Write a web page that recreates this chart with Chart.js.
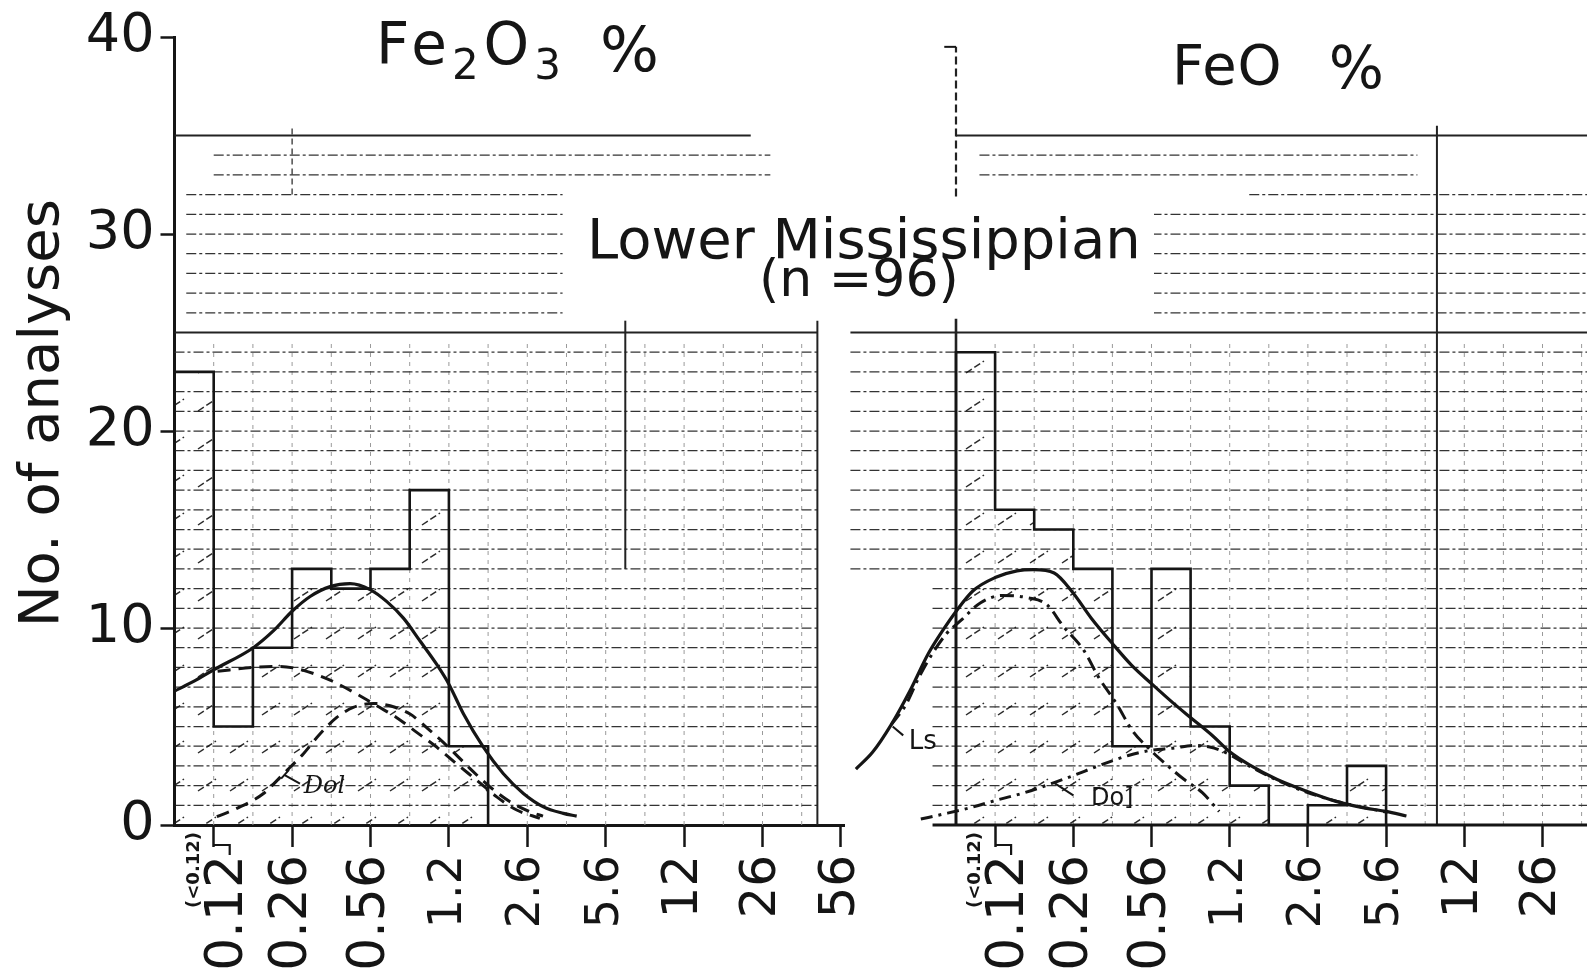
<!DOCTYPE html>
<html>
<head>
<meta charset="utf-8">
<script src="https://cdn.jsdelivr.net/npm/chart.js@4.4.1/dist/chart.umd.min.js"></script>
<style>
html,body{margin:0;padding:0;background:#fff;}
#wrap{position:relative;width:1587px;height:973px;overflow:hidden;background:#fff;}
#wrap canvas{position:absolute;left:0;top:0;}
.t{position:absolute;font-family:"DejaVu Sans",sans-serif;color:#151515;line-height:1;white-space:nowrap;}
.sub{font-size:42px;position:relative;top:15px;}
#box{position:absolute;left:567px;top:197px;width:587px;height:117px;background:#fff;}
</style>
</head>
<body>
<div id="wrap">
  <canvas id="cL" width="1587" height="973"></canvas>
  <canvas id="cR" width="1587" height="973"></canvas>
  <div id="box"></div>
  <div class="t" style="left:376px;top:12px;font-size:58px;letter-spacing:5px;">Fe<span class="sub">2</span>O<span class="sub">3</span><span style="margin-left:34px;font-size:62px;position:relative;top:7px;">%</span></div>
  <div class="t" style="left:1172px;top:35px;font-size:56px;letter-spacing:1px;">FeO<span style="margin-left:46px;font-size:58px;position:relative;top:4px;">%</span></div>
  <div class="t" style="left:587px;top:211px;font-size:56px;">Lower Mississippian</div>
  <div class="t" style="left:759px;top:252px;font-size:52px;">(n =96)</div>
</div>
<script>
// ---------------- data ----------------
const tickLabels = ['0.12', '0.26', '0.56', '1.2', '2.6', '5.6', '12', '26', '56'];
const firstBinLabel = '(<0.12)';
const yTickValues = [0, 10, 20, 30, 40];

// counts per half-decade bin, starting with the (<0.12) bin
const fe2o3Counts = [23, 5, 9, 13, 12, 13, 17, 4];
const feoCounts = [24, 16, 15, 13, 4, 13, 5, 2, 0, 1, 3];

// fitted curves: [bin position, number of analyses]
const fe2o3Total = [[0, 6.8], [0.5, 7.3], [1.02, 7.9], [2.01, 9.0], [2.52, 9.85], [3.0, 10.85], [3.46, 11.6], [3.97, 12.1], [4.48, 12.25], [4.99, 11.95], [5.41, 11.35], [5.84, 10.5], [6.26, 9.35], [6.69, 8.15], [7.0, 7.15], [7.37, 5.65], [7.88, 3.95], [8.39, 2.6], [8.9, 1.6], [9.41, 0.92], [9.92, 0.59], [10.26, 0.45]];
const fe2o3Ls = [[1.1, 7.8], [2.01, 8.0], [2.69, 8.05], [3.29, 7.85], [3.97, 7.35], [4.65, 6.65], [5.16, 6.05], [5.67, 5.45], [6.18, 4.7], [6.69, 3.95], [7.2, 3.1], [7.71, 2.27], [8.22, 1.43], [8.73, 0.76], [9.32, 0.34]];
const fe2o3Dol = [[1.08, 0.42], [1.59, 0.84], [2.27, 1.6], [2.78, 2.6], [3.29, 3.62], [3.71, 4.62], [4.14, 5.46], [4.56, 5.97], [5.07, 6.17], [5.5, 6.05], [6.01, 5.63], [6.52, 4.79], [7.03, 3.87], [7.54, 2.86], [8.05, 1.93], [8.56, 1.18], [9.07, 0.67], [9.4, 0.45]];

const feoTotal = [[-2.56, 2.84], [-2.13, 3.7], [-1.66, 5.08], [-1.18, 6.8], [-0.71, 8.69], [-0.33, 9.9], [0, 10.84], [0.43, 11.88], [1.0, 12.56], [1.56, 12.9], [1.99, 12.96], [2.51, 12.79], [2.99, 11.79], [3.46, 10.5], [4.0, 9.21], [4.5, 8.09], [5.02, 7.14], [5.55, 6.2], [6.02, 5.42], [6.59, 4.48], [7.01, 3.7], [7.54, 3.01], [8.2, 2.32], [8.96, 1.72], [9.72, 1.2], [10.47, 0.86], [11.0, 0.69], [11.52, 0.46]];
const feoLs = [[-1.66, 5.08], [-1.28, 6.11], [-0.95, 7.49], [-0.66, 8.52], [-0.24, 9.72], [0.14, 10.41], [0.62, 11.27], [1.18, 11.65], [1.85, 11.53], [2.32, 11.19], [2.75, 10.07], [3.27, 8.86], [3.65, 7.49], [4.12, 6.11], [4.5, 4.82], [4.98, 3.79], [5.36, 3.1], [5.83, 2.32], [6.3, 1.64], [6.73, 0.69]];
const feoDol = [[-0.9, 0.3], [-0.33, 0.55], [0.33, 0.86], [1.09, 1.29], [1.75, 1.64], [2.51, 2.15], [2.99, 2.5], [3.65, 3.01], [4.41, 3.53], [4.98, 3.79], [5.55, 3.9], [6.11, 4.04], [6.49, 3.96], [6.87, 3.7], [7.54, 2.95], [8.2, 2.29], [8.96, 1.67], [9.9, 1.12], [11.04, 0.64]];

// ---------------- layout / style ----------------
const W = 1587, H = 973;
const PLOT_TOP = 37, PLOT_BOTTOM = 825;
const LEFT_AXIS_PX = 174.5, LEFT_BIN = 39.2;
const RIGHT_AXIS_PX = 956, RIGHT_BIN = 39.1;
const INK = '#151515';
const FONT = '"DejaVu Sans", sans-serif';
Chart.defaults.font.family = FONT;
Chart.defaults.color = INK;

function xLabelFont(index, lab) {
  let size = 50;
  if (lab && lab.startsWith('0.')) size = 52;
  else if (lab && lab.indexOf('.') >= 0) size = 46;
  // the first label is written one small step to the right of its tick
  return {family: FONT, size: size, lineHeight: index === 0 ? 0.28 : 1.1};
}

function makeHatchTile() {
  const c = document.createElement('canvas');
  c.width = 32; c.height = 38;
  const g = c.getContext('2d');
  g.strokeStyle = 'rgba(20,20,20,0.9)';
  g.lineWidth = 1.5;
  g.setLineDash([7, 3]);
  g.beginPath(); g.moveTo(6, 31); g.lineTo(24, 19); g.stroke();
  return c;
}
const hatchTile = makeHatchTile();

const toXY = arr => arr.map(p => ({x: p[0], y: p[1]}));
function steppedOutline(counts) {
  const pts = [{x: 0, y: 0}];
  counts.forEach((c, i) => pts.push({x: i, y: c}));
  pts.push({x: counts.length, y: 0});
  return pts;
}

function seg(ctx, x0, y0, x1, y1) { ctx.beginPath(); ctx.moveTo(x0, y0); ctx.lineTo(x1, y1); ctx.stroke(); }

function makePaperPlugin(paper) {
  return {
    id: 'paper',
    beforeDatasetsDraw(chart) {
      const ctx = chart.ctx, X = chart.scales.x, Y = chart.scales.y;
      const px = v => X.getPixelForValue(v), py = v => Y.getPixelForValue(v);
      ctx.save();
      ctx.strokeStyle = '#9a9a9a'; ctx.lineWidth = 1; ctx.setLineDash([4, 5]);
      paper.cols.forEach(c => {
        for (let x = c.x0; x <= c.x1 + 1e-6; x += c.step) seg(ctx, px(x), py(c.v0), px(x), py(c.v1));
      });
      ctx.strokeStyle = '#333'; ctx.lineWidth = 1.25; ctx.setLineDash([10, 3, 3, 3]);
      paper.rows.forEach(r => {
        for (let v = r.from; v <= r.to; v++) seg(ctx, px(r.x0), py(v), px(r.x1), py(v));
      });
      ctx.strokeStyle = '#222'; ctx.lineWidth = 2; ctx.setLineDash([]);
      paper.majors.forEach(m => seg(ctx, px(m.x0), py(m.v), px(m.x1), py(m.v)));
      paper.vmajors.forEach(m => {
        ctx.setLineDash(m.dash || []);
        ctx.lineWidth = m.w || 2;
        seg(ctx, px(m.x), py(m.v0), px(m.x), py(m.v1));
      });
      ctx.restore();
    }
  };
}

function makeNotesPlugin(notes) {
  return {
    id: 'notes',
    afterDatasetsDraw(chart) {
      const ctx = chart.ctx, X = chart.scales.x, Y = chart.scales.y;
      const px = v => X.getPixelForValue(v), py = v => Y.getPixelForValue(v);
      ctx.save();
      ctx.fillStyle = INK; ctx.strokeStyle = INK; ctx.setLineDash([]);
      if (notes.baseline) {
        ctx.lineWidth = 3;
        seg(ctx, px(notes.baseline[0]), py(0), px(notes.baseline[1]), py(0));
      }
      ctx.lineWidth = 2;
      notes.leaders.forEach(l => seg(ctx, px(l[0][0]), py(l[0][1]), px(l[1][0]), py(l[1][1])));
      notes.texts.forEach(t => {
        ctx.font = t.font; ctx.textAlign = t.align || 'left'; ctx.textBaseline = 'middle';
        ctx.fillText(t.text, px(t.x), py(t.y));
      });
      ctx.save();
      ctx.translate(px(0.5), PLOT_BOTTOM + 7);
      ctx.rotate(-Math.PI / 2);
      ctx.font = 'bold 18px ' + FONT; ctx.textAlign = 'right'; ctx.textBaseline = 'middle';
      ctx.fillText(firstBinLabel, 0, 0);
      ctx.restore();
      const x1 = px(1);
      ctx.lineWidth = 2.2;
      ctx.beginPath(); ctx.moveTo(x1, PLOT_BOTTOM + 20); ctx.lineTo(x1 + 16, PLOT_BOTTOM + 20); ctx.lineTo(x1 + 16, PLOT_BOTTOM + 30); ctx.stroke();
      ctx.restore();
    }
  };
}

function buildChart(canvasId, cfg) {
  const canvas = document.getElementById(canvasId);
  const ctx = canvas.getContext('2d');
  const pattern = ctx.createPattern(hatchTile, 'repeat');
  const curve = (data, width, dash) => ({
    type: 'line', data: toXY(data), borderColor: INK, borderWidth: width, borderDash: dash,
    pointRadius: 0, fill: false, cubicInterpolationMode: 'monotone', clip: false, order: 0
  });
  return new Chart(ctx, {
    type: 'line',
    data: {
      datasets: [
        {type: 'bar', data: cfg.counts.map((c, i) => ({x: i + 0.5, y: c})), backgroundColor: pattern,
         borderWidth: 0, barPercentage: 1, categoryPercentage: 1, order: 5},
        {type: 'line', data: steppedOutline(cfg.counts), stepped: true, borderColor: INK, borderWidth: 2.6,
         pointRadius: 0, fill: false, order: 1, clip: false},
        curve(cfg.total, 3.2, []),
        curve(cfg.ls, 3, cfg.lsDash),
        curve(cfg.dol, 3, cfg.dolDash)
      ]
    },
    plugins: [makePaperPlugin(cfg.paper), makeNotesPlugin(cfg.notes)],
    options: {
      responsive: false, animation: false, events: [],
      layout: {padding: {left: cfg.padLeft, right: cfg.padRight, top: PLOT_TOP, bottom: 0}},
      plugins: {legend: {display: false}, tooltip: {enabled: false}},
      scales: {
        x: {
          type: 'linear', min: cfg.xMin, max: cfg.xMax, offset: false,
          afterBuildTicks: s => { s.ticks = cfg.ticks.map((lab, i) => ({value: 1 + 2 * i})); },
          afterFit: s => { s.height = H - PLOT_BOTTOM; s.paddingLeft = 0; s.paddingRight = 0; },
          ticks: {
            autoSkip: false, minRotation: 90, maxRotation: 90, padding: 8, color: INK,
            callback: (v, i) => (i === 0 ? ['', cfg.ticks[i]] : cfg.ticks[i]),
            font: c => xLabelFont(c.index, cfg.ticks[c.index])
          },
          grid: {drawOnChartArea: false, drawTicks: true, tickLength: 22, tickWidth: 2.5, tickColor: INK, offset: false},
          border: {display: cfg.showBorderX, width: 3, color: INK}
        },
        y: cfg.showY ? {
          type: 'linear', min: 0, max: 40,
          afterBuildTicks: s => { s.ticks = yTickValues.map(v => ({value: v})); },
          afterFit: s => { s.width = LEFT_AXIS_PX; },
          ticks: {padding: 6, color: INK, font: {family: FONT, size: 54, lineHeight: 1}},
          grid: {drawOnChartArea: false, tickLength: 14, tickWidth: 2.5, tickColor: INK},
          border: {display: true, width: 3, color: INK},
          title: {display: true, text: '  No. of analyses', color: INK,
                  font: {family: FONT, size: 56, lineHeight: 1}, padding: {top: 15, bottom: 0}}
        } : {type: 'linear', min: 0, max: 40, display: false}
      }
    }
  });
}

// left panel: Fe2O3
buildChart('cL', {
  counts: fe2o3Counts, total: fe2o3Total, ls: fe2o3Ls, dol: fe2o3Dol,
  lsDash: [13, 8], dolDash: [13, 8],
  ticks: tickLabels, xMin: 0, xMax: 17.1, showY: true, showBorderX: true,
  padLeft: 0, padRight: W - (LEFT_AXIS_PX + 17.1 * LEFT_BIN),
  paper: {
    cols: [{x0: 1, x1: 16, step: 1, v0: 0, v1: 24.6}],
    rows: [{from: 1, to: 24, x0: 0, x1: 16.4}, {from: 26, to: 32, x0: 0.3, x1: 9.9}, {from: 33, to: 34, x0: 1, x1: 15.2}],
    majors: [{v: 25, x0: 0, x1: 16.4}, {v: 35, x0: 0, x1: 14.7}],
    vmajors: [{x: 16.4, v0: 0, v1: 25.6}, {x: 11.5, v0: 13, v1: 25.6}, {x: 3.0, v0: 32, v1: 35.5, dash: [6, 4], w: 1.2}]
  },
  notes: {
    texts: [{text: 'Dol', x: 3.3, y: 1.95, font: 'italic 24px "DejaVu Serif", serif', align: 'left'}],
    leaders: [[[2.8, 2.55], [3.2, 2.1]], [[2.72, 2.35], [2.92, 2.8]]]
  }
});

// right panel: FeO
const R_MIN = -2.7, R_MAX = (W - RIGHT_AXIS_PX) / RIGHT_BIN;
buildChart('cR', {
  counts: feoCounts, total: feoTotal, ls: feoLs, dol: feoDol,
  lsDash: [14, 6, 3, 6], dolDash: [12, 6, 3, 6],
  ticks: tickLabels.slice(0, 8), xMin: R_MIN, xMax: R_MAX, showY: false, showBorderX: false,
  padLeft: RIGHT_AXIS_PX + R_MIN * RIGHT_BIN, padRight: 0,
  paper: {
    cols: [{x0: 1, x1: 16, step: 1, v0: 0, v1: 24.6}],
    rows: [{from: 1, to: 12, x0: -0.6, x1: 16.2}, {from: 13, to: 24, x0: -2.7, x1: 16.2},
           {from: 26, to: 31, x0: 5.0, x1: 16.2}, {from: 32, to: 32, x0: 7.5, x1: 16.2}, {from: 33, to: 34, x0: 0.6, x1: 11.8}],
    majors: [{v: 25, x0: -2.7, x1: 16.2}, {v: 35, x0: 0, x1: 16.2}],
    vmajors: [{x: 0, v0: 0, v1: 25.7, w: 2.6}, {x: 0, v0: 31.9, v1: 39.5, dash: [8, 4], w: 2.2}, {x: 12.3, v0: 0, v1: 35.5}]
  },
  notes: {
    baseline: [-0.6, 16.2],
    texts: [{text: 'Ls', x: -0.85, y: 4.2, font: '26px "DejaVu Sans", sans-serif', align: 'center'},
            {text: 'Do]', x: 3.45, y: 1.35, font: '24px "DejaVu Sans", sans-serif', align: 'left'}],
    leaders: [[[-1.62, 5.0], [-1.35, 4.55]], [[2.5, 2.15], [3.0, 1.5]], [[-0.3, 39.5], [0, 39.5]]]
  }
});
</script>
</body>
</html>
